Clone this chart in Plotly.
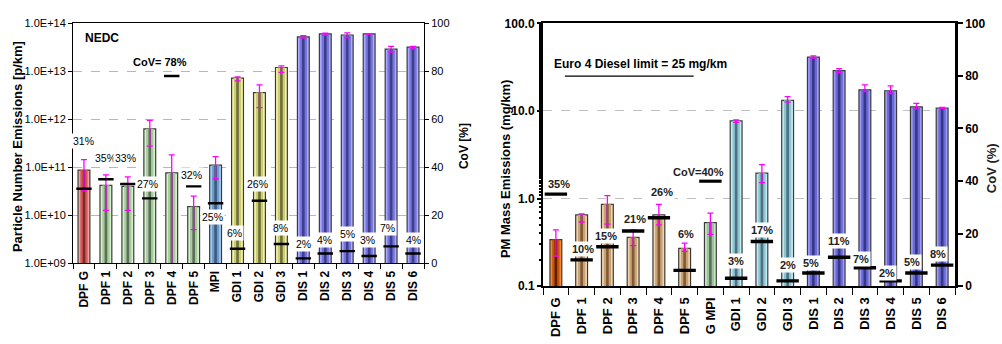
import plotly.graph_objects as go

# ---------------- NEDC particle number (left panel) ----------------
pn_categories = ["DPF G", "DPF 1", "DPF 2", "DPF 3", "DPF 4", "DPF 5", "MPI",
                 "GDI 1", "GDI 2", "GDI 3", "DIS 1", "DIS 2", "DIS 3", "DIS 4",
                 "DIS 5", "DIS 6"]
pn_mean = [8.7e10, 4.2e10, 4.0e10, 6.3e11, 7.6e10, 1.5e10, 1.1e11,
           7.2e12, 3.6e12, 1.2e13, 5.2e13, 6.0e13, 5.7e13, 6.0e13, 2.9e13, 3.2e13]
pn_high = [1.44e11, 6.9e10, 6.3e10, 9.5e11, 1.8e11, 2.5e10, 1.66e11,
           7.6e12, 5.2e12, 1.3e13, 5.5e13, 6.2e13, 6.3e13, 6.1e13, 3.3e13, 3.3e13]
pn_low = [3.2e10, 1.26e10, 1.26e10, 2.75e11, 5.0e8, 5.0e9, 5.75e10,
          6.3e12, 1.74e12, 9.5e12, 5.0e13, 5.7e13, 5.0e13, 5.9e13, 2.5e13, 2.9e13]
pn_cov = [31, 35, 33, 27, 78, 32, 25, 6, 26, 8, 2, 4, 5, 3, 7, 4]
pn_groups = ["G", "D", "D", "D", "D", "D", "M", "Y", "Y", "Y",
             "B", "B", "B", "B", "B", "B"]
pn_ticks = [1e9, 1e10, 1e11, 1e12, 1e13, 1e14]
pn_ticktext = ["1.0E+09", "1.0E+10", "1.0E+11", "1.0E+12", "1.0E+13", "1.0E+14"]

# ---------------- PM mass (right panel) ----------------
pm_categories = ["DPF G", "DPF 1", "DPF 2", "DPF 3", "DPF 4", "DPF 5", "G MPI",
                 "GDI 1", "GDI 2", "GDI 3", "DIS 1", "DIS 2", "DIS 3", "DIS 4",
                 "DIS 5", "DIS 6"]
pm_mean = [0.34, 0.65, 0.86, 0.36, 0.65, 0.27, 0.53,
           7.7, 1.95, 13.2, 41.2, 28.9, 17.4, 17.0, 11.1, 10.8]
pm_high = [0.44, 0.67, 1.08, 0.44, 0.86, 0.31, 0.68,
           7.9, 2.44, 14.6, 42.5, 30.4, 19.8, 19.3, 12.2, 11.0]
pm_low = [0.22, 0.54, 0.51, 0.29, 0.50, 0.25, 0.39,
          7.4, 1.52, 12.6, 40.0, 27.4, 16.6, 15.8, 10.5, 10.6]
pm_cov = [35, 10, 15, 21, 26, 6, 40, 3, 17, 2, 5, 11, 7, 2, 5, 8]
pm_groups = ["O", "T", "T", "T", "T", "T", "M", "C", "C", "C",
             "B", "B", "B", "B", "B", "B"]
pm_ticks = [0.1, 1, 10, 100]
pm_ticktext = ["0.1", "1.0", "10.0", "100.0"]
euro4_limit = 25  # mg/km

cov_ticks = [0, 20, 40, 60, 80, 100]

# label heights on the CoV axes (layout only)
pn_label_y = [50.8, 44, 44, 32.8, 84, 36.8, 19.2, 12.4, 33.2, 14.8,
              8, 9.6, 12, 9.6, 14.8, 9.6]
pn_label_dx = [0, 0, -2, -2, -12, -2, -3, -3, -2, -1, 0, -1, 0, -2, -4, 0]
pm_label_y = [38.7, 14.2, 19.0, 25.5, 35.8, 19.7, 43.4, 9.5, 21.5, 8.0,
              8.8, 17.2, 10.2, 5.1, 9.1, 12.4]
pm_label_dx = [3, 1, -1, 2, 3, 1, -12, 0, 0, 0, -2, 0, -4, -4, -4, -4]

# cylinder-look shading: (edge, mid, centre)
palette = {
    "G": ("#f4a2a0", "#d45a58", "#7a2a2a"),
    "D": ("#d6f0ce", "#a6cc9c", "#5e6e5c"),
    "M": ("#a8d0f2", "#6c9ccc", "#3e5a7a"),
    "Y": ("#f6f6aa", "#cccc72", "#6e6e3e"),
    "B": ("#aaaaff", "#7474dc", "#3e3e8a"),
    "O": ("#f28a3a", "#c85400", "#5c1e00"),
    "T": ("#f2d4ac", "#c9a172", "#7c5a3a"),
    "C": ("#c4eaf2", "#8cc4d2", "#4e7080"),
}
palette_pm = dict(palette)
palette_pm["M"] = ("#c8e8c8", "#9cc49c", "#5e6e5c")
palette_pm["B"] = ("#9c9cf8", "#6a6ad2", "#36368a")

FONT = "Liberation Sans, Arial, sans-serif"

fig = go.Figure()


def add_bars(cats, vals, groups, pal, xa, ya, width):
    layers = [(width, 0), (width * 0.62, 1), (width * 0.22, 2)]
    for i, (w, k) in enumerate(layers):
        fig.add_trace(go.Bar(
            x=cats, y=vals, width=w, xaxis=xa, yaxis=ya,
            marker=dict(color=[pal[g][k] for g in groups],
                        line=dict(color="#3a3a3a" if i == 0 else "rgba(0,0,0,0)",
                                  width=1.2 if i == 0 else 0)),
            showlegend=False, hoverinfo="skip"))


def add_errors(cats, vals, hi, lo, xa, ya):
    fig.add_trace(go.Scatter(
        x=cats, y=vals, xaxis=xa, yaxis=ya, mode="markers",
        marker=dict(size=1, color="rgba(0,0,0,0)"),
        error_y=dict(type="data", symmetric=False,
                     array=[h - v for h, v in zip(hi, vals)],
                     arrayminus=[v - l for v, l in zip(vals, lo)],
                     color="#ff00ff", thickness=1.3, width=3),
        showlegend=False, hoverinfo="skip"))


def add_cov(cats, cov, xa, ya, size, lw):
    fig.add_trace(go.Scatter(
        x=cats, y=cov, xaxis=xa, yaxis=ya, mode="markers",
        marker=dict(symbol="line-ew", size=size,
                    line=dict(color="black", width=lw)),
        showlegend=False, hoverinfo="skip"))


add_bars(pn_categories, pn_mean, pn_groups, palette, "x", "y", 0.54)
add_errors(pn_categories, pn_mean, pn_high, pn_low, "x", "y")
add_cov(pn_categories, pn_cov, "x", "y2", 11, 2.4)

add_bars(pm_categories, pm_mean, pm_groups, palette_pm, "x2", "y3", 0.46)
add_errors(pm_categories, pm_mean, pm_high, pm_low, "x2", "y3")
add_cov(pm_categories, pm_cov, "x2", "y4", 16, 3.4)

annotations = []
for i, c in enumerate(pn_categories):
    big = pn_cov[i] > 60
    txt = f"CoV= {pn_cov[i]}%" if big else f"{pn_cov[i]}%"
    annotations.append(dict(
        x=c, y=pn_label_y[i], xref="x", yref="y2", text=txt, showarrow=False,
        xanchor="center", yanchor="middle",
        xshift=pn_label_dx[i], bgcolor="white", borderpad=1,
        font=dict(family=FONT, size=11 if big else 10.5, color="black",
                  weight="bold" if big else "normal")))
for i, c in enumerate(pm_categories):
    txt = f"CoV={pm_cov[i]}%" if pm_groups[i] == "M" else f"{pm_cov[i]}%"
    annotations.append(dict(
        x=c, y=pm_label_y[i], xref="x2", yref="y4", text=txt, showarrow=False,
        xanchor="center", yanchor="middle",
        xshift=pm_label_dx[i], bgcolor="white", borderpad=1,
        font=dict(family=FONT, size=11, color="#222222", weight="bold")))


def paper_text(x, y, text, size, angle=0, color="black"):
    return dict(x=x / 1002, y=1 - y / 344, xref="paper", yref="paper",
                text=text, textangle=angle, showarrow=False,
                xanchor="center", yanchor="middle",
                font=dict(family=FONT, size=size, weight="bold", color=color))


annotations += [
    paper_text(102, 32, "NEDC", 12),
    paper_text(17, 146, "Particle Number Emissions [p/km]", 13, -90),
    paper_text(464, 145, "CoV [%]", 12, -90),
    paper_text(505, 169, "PM Mass Emissions (mg/km)", 13, -90),
    paper_text(991, 168, "CoV (%)", 13, -90, "#222222"),
    paper_text(640, 59, f"Euro 4 Diesel limit = {euro4_limit} mg/km", 12),
]

shapes = [dict(type="line", xref="x2", yref="y3", x0=0.35, x1=5.35,
               y0=euro4_limit, y1=euro4_limit, line=dict(color="black", width=1.3))]

tick_font = dict(family=FONT, size=11, color="black")
bold_tick = dict(family=FONT, size=12, color="black", weight="bold")

fig.update_layout(
    width=1002, height=344, margin=dict(l=0, r=0, t=0, b=0),
    paper_bgcolor="white", plot_bgcolor="white",
    barmode="overlay", showlegend=False,
    annotations=annotations, shapes=shapes,
    xaxis=dict(domain=[73 / 1002, 424 / 1002], anchor="y", type="category",
               categoryorder="array", categoryarray=pn_categories,
               range=[-0.5, 15.5], showline=True, linecolor="black", linewidth=1,
               mirror=True, ticks="outside", tickson="boundaries", ticklen=5,
               tickcolor="black", tickangle=-90, showgrid=False,
               ticklabelstandoff=2,
               tickfont=dict(family=FONT, size=12, color="black", weight="bold")),
    yaxis=dict(domain=[1 - 267 / 344, 1 - 17 / 344], anchor="x", type="log",
               range=[9, 14], tickvals=pn_ticks, ticktext=pn_ticktext,
               showline=True, linecolor="black", linewidth=1, ticks="outside",
               ticklen=4, tickcolor="black", showgrid=True, gridcolor="#b8b8b8",
               griddash="dash", gridwidth=1, zeroline=False, tickfont=tick_font),
    yaxis2=dict(overlaying="y", side="right", anchor="x", range=[0, 100],
                tickvals=cov_ticks, ticksuffix="%", showline=True,
                linecolor="black", linewidth=1, ticks="outside", ticklen=4,
                tickcolor="black", showgrid=False, zeroline=False,
                tickfont=tick_font),
    xaxis2=dict(domain=[543 / 1002, 955 / 1002], anchor="y3", type="category",
                categoryorder="array", categoryarray=pm_categories,
                range=[-0.5, 15.5], showline=True, linecolor="black", linewidth=2,
                mirror=True, ticks="outside", tickson="boundaries", ticklen=7,
                tickcolor="black", tickwidth=1, tickangle=-90, showgrid=False,
                ticklabelstandoff=4,
                tickfont=dict(family=FONT, size=13, color="black", weight="bold")),
    yaxis3=dict(domain=[1 - 291 / 344, 1 - 17 / 344], anchor="x2", type="log",
                range=[-1, 2], tickvals=pm_ticks, ticktext=pm_ticktext,
                showline=True, linecolor="black", linewidth=2, ticks="outside",
                ticklen=4, tickwidth=1.5, tickcolor="black", showgrid=True,
                gridcolor="#c0c0c0", griddash="dash", gridwidth=1, zeroline=False,
                minor=dict(ticks="outside", ticklen=2, tickcolor="black",
                           showgrid=False),
                tickfont=bold_tick),
    yaxis4=dict(overlaying="y3", side="right", anchor="x2", range=[0, 100],
                tickvals=cov_ticks, ticksuffix="%", showline=True,
                linecolor="black", linewidth=2.5, ticks="outside", ticklen=5,
                tickwidth=2, tickcolor="black", showgrid=False, zeroline=False,
                tickfont=bold_tick),
)

fig.write_html("out.html")
